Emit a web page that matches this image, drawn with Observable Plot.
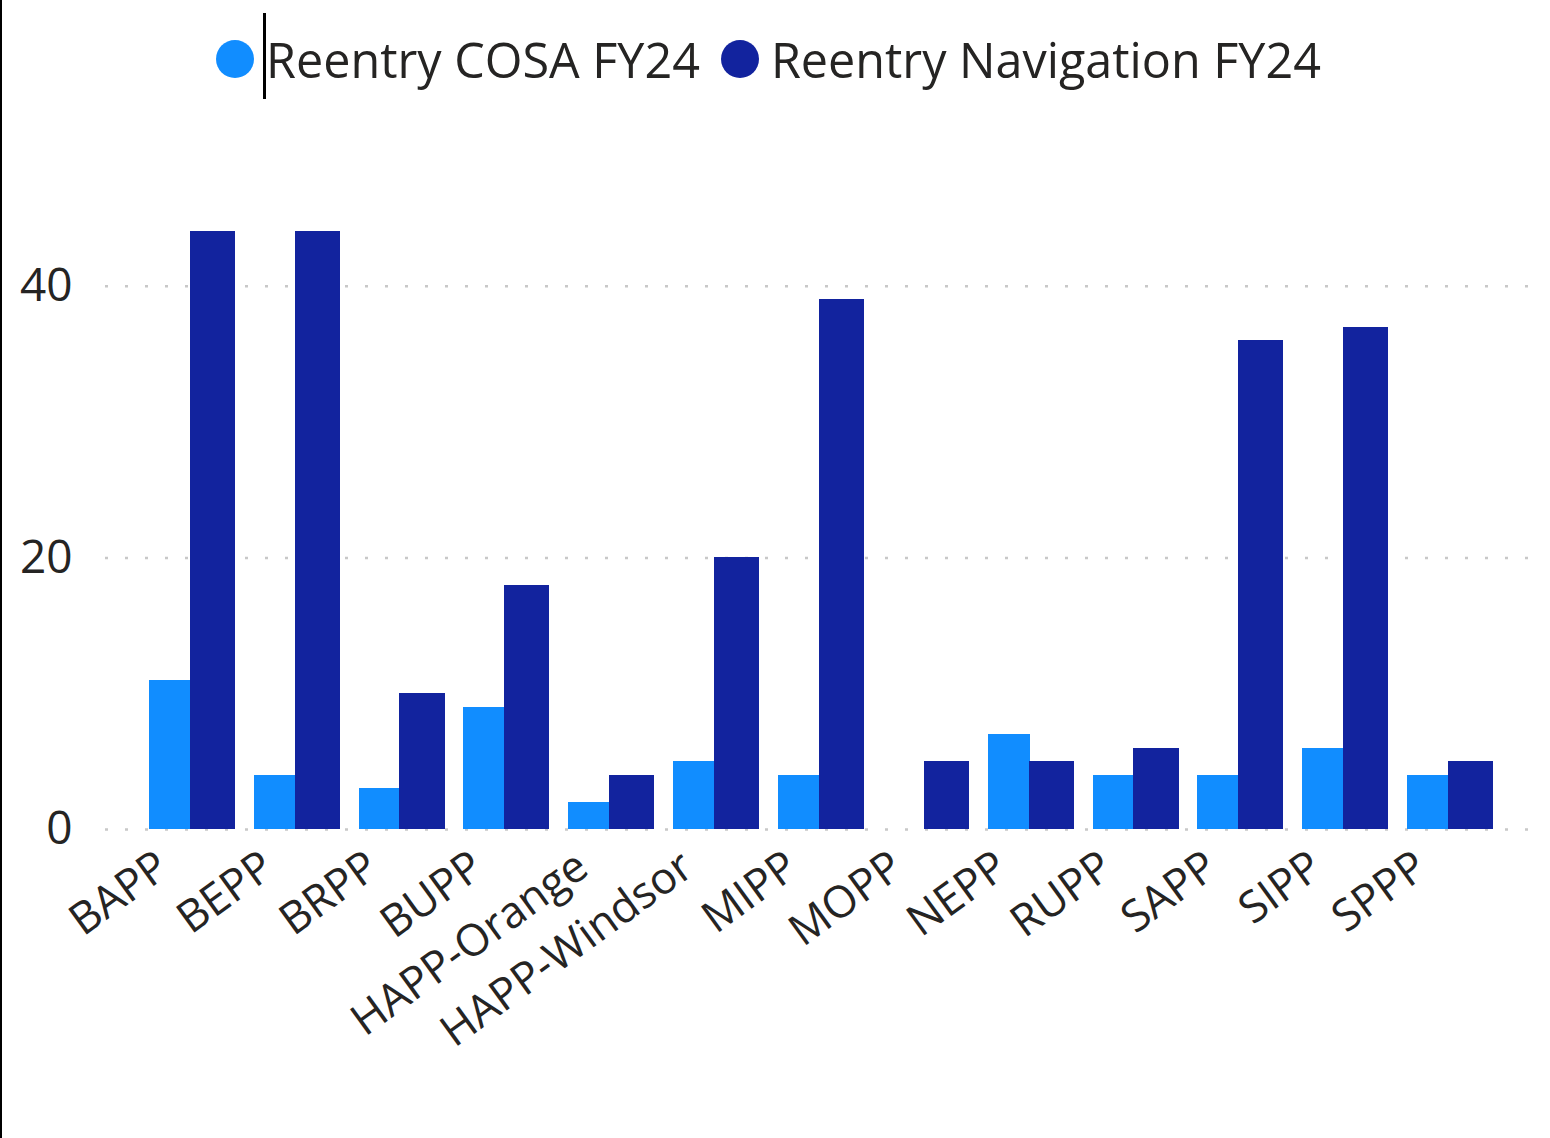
<!DOCTYPE html>
<html>
<head>
<meta charset="utf-8">
<script src="https://cdn.jsdelivr.net/npm/d3@7"></script>
<script src="https://cdn.jsdelivr.net/npm/@observablehq/plot@0.6"></script>
<style>
  html, body { margin: 0; padding: 0; background: #fff; }
  body { font-family: "Segoe UI", "Open Sans", "Noto Sans", sans-serif; color: #252423; }
  #page { position: relative; width: 1550px; height: 1138px; overflow: hidden; }
  #leftborder { position: absolute; left: 0; top: 0; width: 2px; height: 1138px; background: #000; }
  #legend { height: 110px; position: relative; }
  #legend .items { position: absolute; left: 216px; top: 0; height: 118px; display: flex; align-items: center; font-size: 48.5px; white-space: nowrap; }
  #legend .item { display: flex; align-items: center; margin-right: 21px; }
  #legend .dot { width: 38px; height: 38px; border-radius: 50%; margin-right: 12px; }
  #cursor { position: absolute; left: 263px; top: 13px; width: 3px; height: 86px; background: #000; }
</style>
</head>
<body>
<div id="page">
  <div id="legend"><div class="items"></div></div>
  <div id="chart"></div>
  <div id="cursor"></div>
  <div id="leftborder"></div>
</div>
<script>
// ---- data ----
const categories = ["BAPP", "BEPP", "BRPP", "BUPP", "HAPP-Orange", "HAPP-Windsor", "MIPP", "MOPP", "NEPP", "RUPP", "SAPP", "SIPP", "SPPP"];
const seriesNames = ["Reentry COSA FY24", "Reentry Navigation FY24"];
const cosaValues = [11, 4, 3, 9, 2, 5, 4, null, 7, 4, 4, 6, 4];
const navValues = [44, 44, 10, 18, 4, 20, 39, 5, 5, 6, 36, 37, 5];
const seriesColors = ["#118DFF", "#12239E"];
const yTicks = [0, 20, 40];

// ---- tables ----
const cosaRows = categories.map((c, i) => ({cat: c, value: cosaValues[i]})).filter(d => d.value != null);
const navRows = categories.map((c, i) => ({cat: c, value: navValues[i]})).filter(d => d.value != null);

// ---- legend ----
const items = document.querySelector("#legend .items");
seriesNames.forEach((s, i) => {
  const it = document.createElement("div");
  it.className = "item";
  const dot = document.createElement("span");
  dot.className = "dot";
  dot.style.background = seriesColors[i];
  const label = document.createElement("span");
  label.textContent = s;
  it.appendChild(dot);
  it.appendChild(label);
  items.appendChild(it);
});

// ---- chart ----
const W = 1550, H = 1028, mL = 105, mR = 20, mT = 40, mB = 309;
const xOpts = {type: "band", domain: categories, paddingInner: 0.18, paddingOuter: 0.4, range: [107, 1535], round: false};
const xs = Plot.scale({x: xOpts});
const bw = xs.bandwidth;
const split = 0.475; // share of each group's width taken by the first series

const fontFamily = '"Segoe UI", "Open Sans", "Noto Sans", sans-serif';
const chart = Plot.plot({
  width: W,
  height: H,
  marginLeft: mL,
  marginRight: mR,
  marginTop: mT,
  marginBottom: mB,
  style: {fontFamily, color: "#252423", background: "transparent", overflow: "visible"},
  x: {...xOpts, label: null},
  y: {domain: [0, 50], label: null},
  marks: [
    Plot.gridY(yTicks, {stroke: "#c8c8c8", strokeOpacity: 1, strokeWidth: 2.5, strokeDasharray: "3,17"}),
    Plot.barY(cosaRows, {x: "cat", y: "value", fill: seriesColors[0], insetRight: bw * (1 - split) - 1, shapeRendering: "crispEdges"}),
    Plot.barY(navRows, {x: "cat", y: "value", fill: seriesColors[1], insetLeft: bw * split, shapeRendering: "crispEdges"}),
    Plot.axisY(yTicks, {tickSize: 0, tickPadding: 33, fontSize: 46, fill: "#252423", label: null}),
    Plot.axisX({label: null, tickSize: 0, tickPadding: 32, tickRotate: -36, textAnchor: "end", lineAnchor: "middle", dx: -29, fontSize: 44, fill: "#252423"})
  ]
});
document.getElementById("chart").appendChild(chart);
</script>
</body>
</html>
